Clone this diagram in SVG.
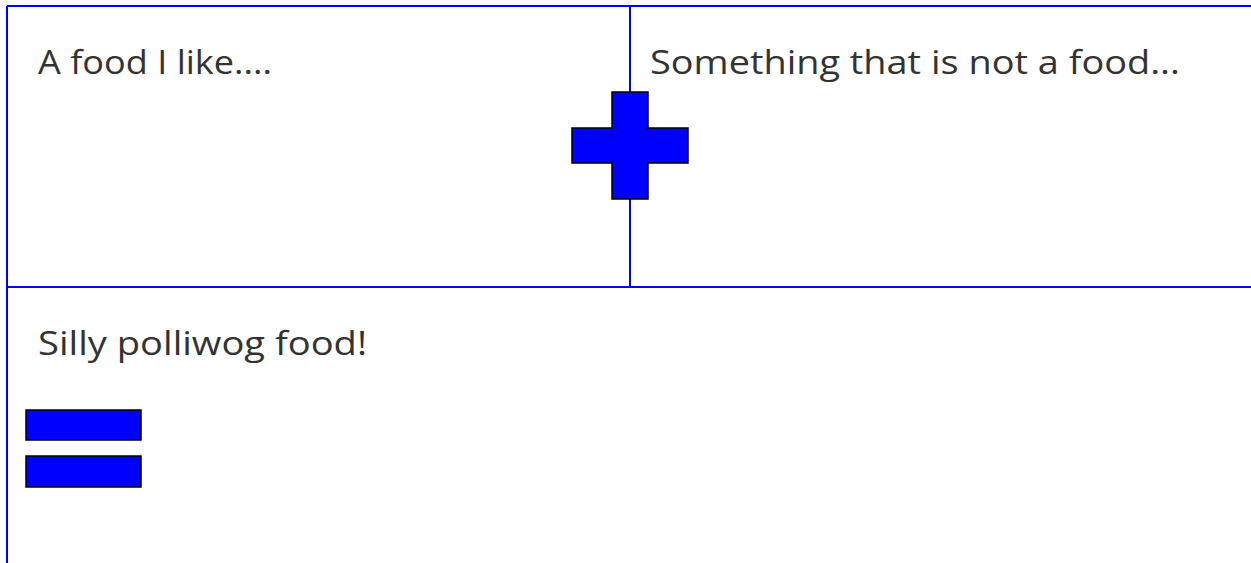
<svg xmlns="http://www.w3.org/2000/svg" width="1251" height="563" viewBox="0 0 1251 563">
<style>
.ln{stroke:#0000ff;stroke-width:2;fill:none}
.sh{fill:#0000ff;stroke:#000;stroke-width:1.5}
.t{font-family:"Open Sans","Liberation Sans",sans-serif;font-size:32px;fill:#333}
</style>
<rect width="1251" height="563" fill="#fff"/>
<g id="grid">
<line class="ln" x1="7" y1="6" x2="1251" y2="6"/>
<line class="ln" x1="7" y1="6" x2="7" y2="563"/>
<line class="ln" x1="630" y1="6" x2="630" y2="287"/>
<line class="ln" x1="7" y1="287" x2="1251" y2="287"/>
</g>
<g id="label1"><text class="t" x="38" y="74" textLength="234" lengthAdjust="spacingAndGlyphs">A food I like....</text></g>
<g id="label2"><text class="t" x="650" y="74" textLength="530" lengthAdjust="spacingAndGlyphs">Something that is not a food...</text></g>
<g id="label3"><text class="t" x="38" y="355" textLength="329" lengthAdjust="spacingAndGlyphs">Silly polliwog food!</text></g>
<g id="plus"><path class="sh" d="M612,92 H648 V128 H688 V163 H648 V199 H612 V163 H572 V128 H612 Z"/></g>
<g id="equals">
<rect class="sh" x="26" y="410" width="115" height="30"/>
<rect class="sh" x="26" y="456" width="115" height="31"/>
</g>
</svg>
